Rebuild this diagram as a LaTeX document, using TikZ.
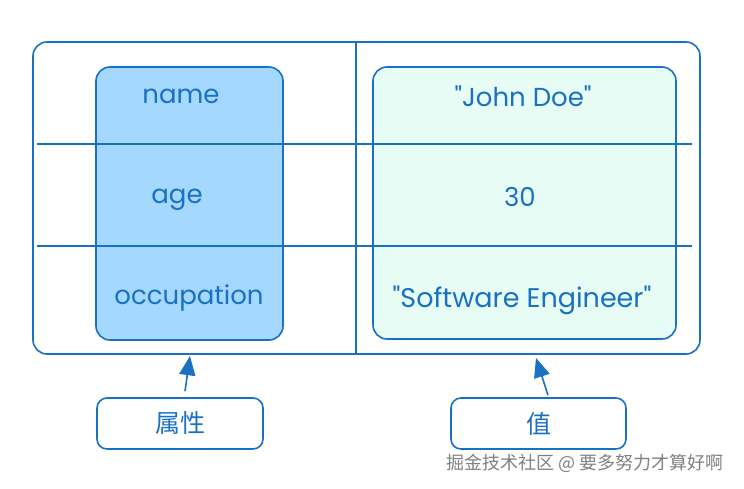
\documentclass[tikz,border=0pt]{standalone}
\usepackage{fontspec}
\setmainfont{Poppins}
\newfontfamily\cjk{Noto Sans CJK SC}
\usepackage{xcolor}
\usetikzlibrary{arrows.meta,positioning}

\definecolor{skblue}{HTML}{1971C2}
\definecolor{keyfill}{HTML}{A5D8FF}
\definecolor{valfill}{HTML}{E6FCF5}

\begin{document}
\begin{tikzpicture}[x=1pt, y=-1pt,
  every node/.style={font=\fontsize{26}{30}\selectfont, text=skblue},
  box/.style={draw=skblue, line width=1.6pt, rounded corners=14pt},
  tag/.style={box, rounded corners=10pt, minimum width=166pt, minimum height=51pt,
    font=\cjk\fontsize{25}{28}\selectfont},
  rule/.style={draw=skblue, line width=1.6pt},
  pointer/.style={rule, -{Triangle[length=12pt,width=10pt,scale=1.6]}}]
  \useasboundingbox (0,0) rectangle (744,488);

  % table frame and the two columns
  \node[box, minimum width=667pt, minimum height=312pt] (frame) at (366.5,198) {};
  \node[box, fill=keyfill, minimum width=187pt, minimum height=273pt] (keys) at (189.5,203.5) {};
  \node[box, fill=valfill, minimum width=303pt, minimum height=272pt] (vals) at (524.5,203) {};
  \draw[rule] (356,42) -- (356,353);
  \draw[rule] (37,144) -- (692,144);
  \draw[rule] (37,246) -- (692,246);

  % rows
  \node (name) at (181,96) {name};
  \node (age) at (177,200) {age};
  \node (occ) at (189,298) {occupation};
  \node (john) at (523,96) {\textquotedbl John Doe\textquotedbl};
  \node (thirty) at (520,197) {30};
  \node[font=\fontsize{27}{30}\selectfont] (eng) at (522,300)
    {\textquotedbl Software Engineer\textquotedbl};

  % captions
  \node[tag] (attr) at (180,423.5) {属性};
  \node[tag, minimum width=175pt] (val) at (538.5,423.5) {值};
  \coordinate (attrtip) at (190,356);
  \coordinate (valtip) at (536,358);
  \draw[pointer] ([xshift=5pt,yshift=6pt]attr.north) -- (attrtip);
  \draw[pointer] ([xshift=9.5pt,yshift=2pt]val.north) -- (valtip);

  \node[font=\cjk\fontsize{18}{20}\selectfont, text=gray] (mark) at (585,463)
    {掘金技术社区 @ 要多努力才算好啊};
\end{tikzpicture}
\end{document}
